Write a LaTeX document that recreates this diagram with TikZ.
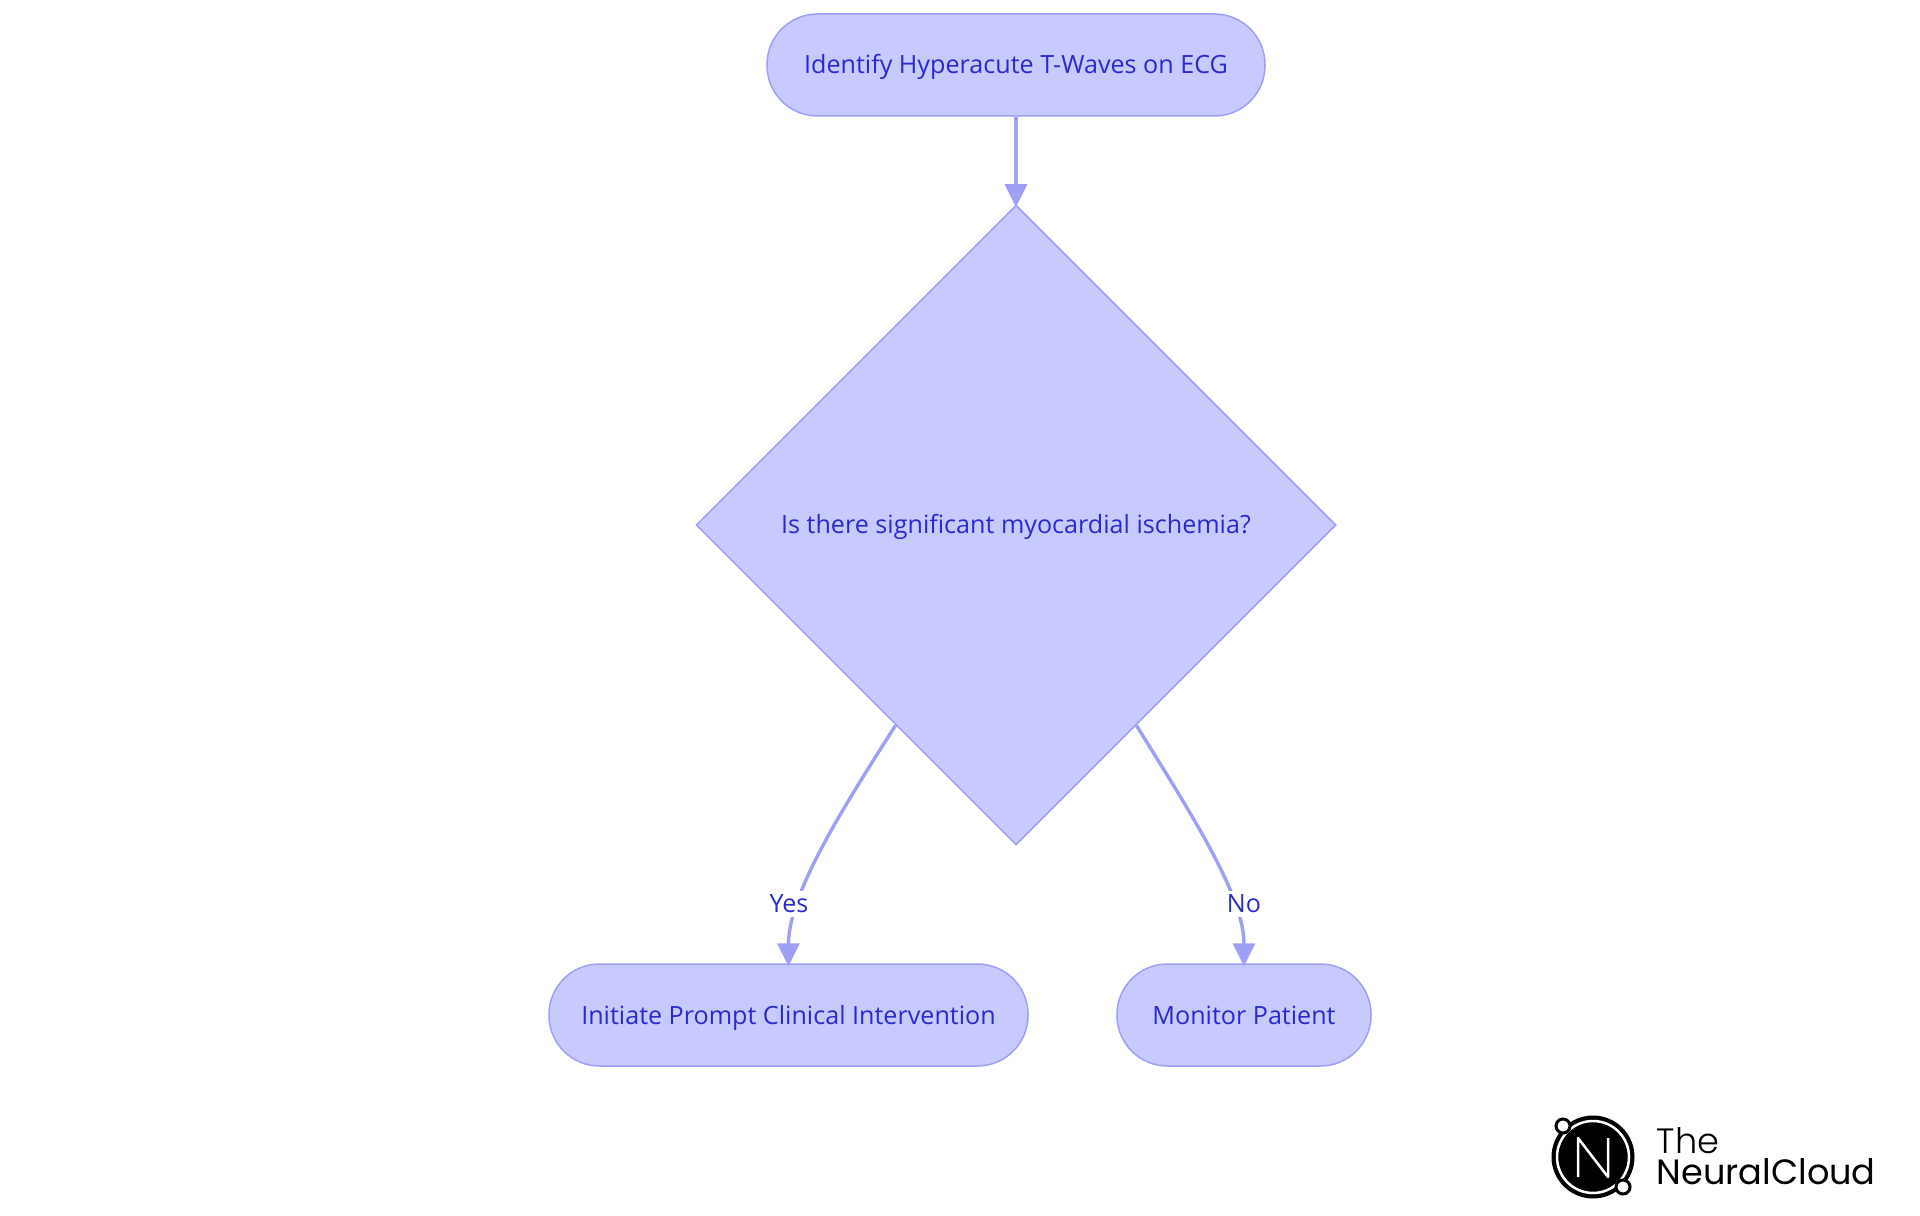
\documentclass[tikz,border=0pt]{standalone}
\usepackage{fontspec}
\setmainfont{Open Sans}
\newfontfamily\logofont{Poppins}
\newfontfamily\logothin{Poppins Light}
\usetikzlibrary{shapes.geometric}
\usetikzlibrary{arrows.meta}
\definecolor{nodefill}{HTML}{C8C9FE}
\definecolor{nodeline}{HTML}{9E9FF5}
\definecolor{nodetext}{HTML}{2A2AD0}
\tikzset{
  pill/.style={draw=nodeline, fill=nodefill, text=nodetext, line width=0.015cm, rounded corners=0.505cm, minimum height=1.02cm, inner sep=0pt, text height=0.23cm, text depth=0.05cm, font=\fontsize{7.15}{8}\selectfont},
  decision/.style={draw=nodeline, fill=nodefill, text=nodetext, line width=0.015cm, diamond, aspect=1, minimum width=6.4cm, minimum height=6.4cm, inner sep=0pt, text height=0.23cm, text depth=0.05cm, font=\fontsize{7.15}{8}\selectfont},
  flow/.style={draw=nodeline, line width=0.034cm, shorten >=-0.03cm, -{Triangle[length=0.23cm,width=0.22cm]}},
  edgelabel/.style={fill=white, text=nodetext, inner xsep=0.02cm, inner ysep=0.04cm, font=\fontsize{7.15}{8}\selectfont},
}

\begin{document}
\begin{tikzpicture}
\useasboundingbox (0,0) rectangle (19.2,12.15);

% flow nodes
\node[pill, minimum width=4.98cm] (identify) at (10.16, 11.5) {Identify Hyperacute T-Waves on ECG};
\node[decision] (ischemia) at (10.16, 6.9) {Is there significant myocardial ischemia?};
\node[pill, minimum width=4.79cm] (initiate) at (7.885, 2.0) {Initiate Prompt Clinical Intervention};
\node[pill, minimum width=2.54cm] (monitor) at (12.44, 2.0) {Monitor Patient};

% connectors
\draw[flow] (identify) -- (ischemia);
\draw[flow] (ischemia.239.5) .. controls +(-0.57,-0.89) and +(0,0.68) .. (initiate.north);
\draw[flow] (ischemia.301) .. controls +(0.55,-0.89) and +(0,0.68) .. (monitor.north);

% connector labels
\node[edgelabel] (yes) at (7.89, 3.11) {Yes};
\node[edgelabel] (no) at (12.44, 3.11) {No};

% logo mark
\fill[black] (15.93, 0.58) circle (0.415);
\draw[white, line width=0.025cm] (15.93, 0.58) circle (0.36);
\draw[white, line width=0.025cm, line join=round] (15.78, 0.38) -- (15.78, 0.77) -- (16.08, 0.38) -- (16.08, 0.77);
\filldraw[fill=white, draw=black, line width=0.03cm] (15.63, 0.89) circle (0.07);
\filldraw[fill=white, draw=black, line width=0.03cm] (16.23, 0.28) circle (0.07);

% logo text
\node[anchor=west, inner sep=0pt, font=\logothin\fontsize{10}{12}\selectfont] (the) at (16.56, 0.74) {The};
\node[anchor=west, inner sep=0pt, font=\logofont\fontsize{10}{12}\selectfont] (neuralcloud) at (16.56, 0.43) {NeuralCloud};

\end{tikzpicture}
\end{document}
